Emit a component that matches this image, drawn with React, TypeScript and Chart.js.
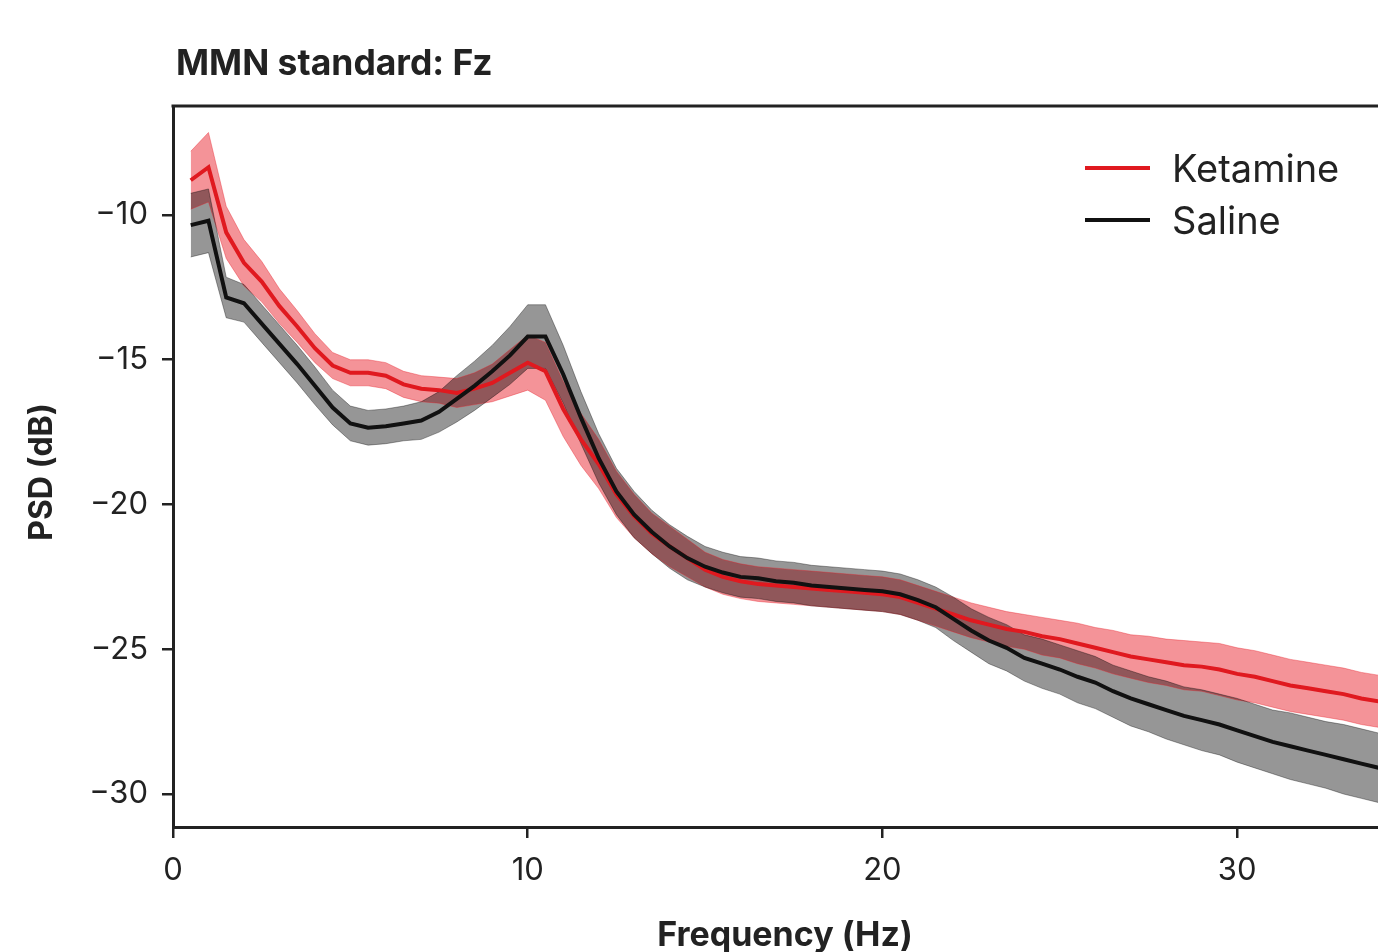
import React, { useEffect, useRef } from "react";
import { Chart, registerables } from "chart.js";

Chart.register(...registerables);

const TITLE = "MMN standard: Fz";
const X_LABEL = "Frequency (Hz)";
const Y_LABEL = "PSD (dB)";
const SERIES_NAMES = ["Ketamine", "Saline"];
const X_TICKS = [0, 10, 20, 30];
const Y_TICKS = [-30, -25, -20, -15, -10];

const FREQS = [
  0.5, 1.0, 1.5, 2.0, 2.5, 3.0, 3.5, 4.0, 4.5, 5.0,
  5.5, 6.0, 6.5, 7.0, 7.5, 8.0, 8.5, 9.0, 9.5, 10.0,
  10.5, 11.0, 11.5, 12.0, 12.5, 13.0, 13.5, 14.0, 14.5, 15.0,
  15.5, 16.0, 16.5, 17.0, 17.5, 18.0, 18.5, 19.0, 19.5, 20.0,
  20.5, 21.0, 21.5, 22.0, 22.5, 23.0, 23.5, 24.0, 24.5, 25.0,
  25.5, 26.0, 26.5, 27.0, 27.5, 28.0, 28.5, 29.0, 29.5, 30.0,
  30.5, 31.0, 31.5, 32.0, 32.5, 33.0, 33.5, 34.0,
];

const KETAMINE_MEAN = [
  -8.8, -8.35, -10.6, -11.65, -12.3, -13.15, -13.85, -14.6, -15.2, -15.45,
  -15.45, -15.55, -15.85, -16.0, -16.05, -16.15, -16.0, -15.8, -15.45, -15.1,
  -15.4, -16.7, -17.75, -18.6, -19.65, -20.4, -21.0, -21.45, -21.85, -22.25,
  -22.5, -22.65, -22.75, -22.8, -22.85, -22.9, -22.95, -23.0, -23.05, -23.1,
  -23.2, -23.4, -23.6, -23.8, -24.0, -24.15, -24.3, -24.4, -24.55, -24.65,
  -24.8, -24.95, -25.1, -25.25, -25.35, -25.45, -25.55, -25.6, -25.7, -25.85,
  -25.95, -26.1, -26.25, -26.35, -26.45, -26.55, -26.7, -26.8,
];

const KETAMINE_ERR = [
  1.0, 1.2, 0.9, 0.8, 0.7, 0.6, 0.55, 0.5, 0.45, 0.45,
  0.45, 0.45, 0.45, 0.45, 0.45, 0.5, 0.55, 0.65, 0.8, 0.95,
  1.0, 0.95, 0.9, 0.85, 0.8, 0.75, 0.7, 0.7, 0.65, 0.6,
  0.6, 0.6, 0.6, 0.6, 0.6, 0.6, 0.6, 0.6, 0.6, 0.6,
  0.6, 0.6, 0.6, 0.6, 0.6, 0.6, 0.6, 0.6, 0.65, 0.65,
  0.7, 0.7, 0.75, 0.75, 0.8, 0.8, 0.85, 0.85, 0.9, 0.9,
  0.9, 0.9, 0.9, 0.9, 0.9, 0.9, 0.9, 0.9,
];

const SALINE_MEAN = [
  -10.35, -10.2, -12.85, -13.05, -13.75, -14.45, -15.15, -15.9, -16.65, -17.2,
  -17.35, -17.3, -17.2, -17.1, -16.8, -16.35, -15.9, -15.4, -14.85, -14.2,
  -14.2, -15.5, -17.0, -18.4, -19.55, -20.35, -20.95, -21.45, -21.85, -22.15,
  -22.35, -22.5, -22.55, -22.65, -22.7, -22.8, -22.85, -22.9, -22.95, -23.0,
  -23.1, -23.3, -23.55, -23.95, -24.35, -24.7, -24.95, -25.3, -25.5, -25.7,
  -25.95, -26.15, -26.45, -26.7, -26.9, -27.1, -27.3, -27.45, -27.6, -27.8,
  -28.0, -28.2, -28.35, -28.5, -28.65, -28.8, -28.95, -29.1,
];

const SALINE_ERR = [
  1.1, 1.1, 0.7, 0.65, 0.65, 0.65, 0.65, 0.65, 0.6, 0.6,
  0.6, 0.6, 0.6, 0.65, 0.7, 0.8, 0.85, 0.9, 1.0, 1.1,
  1.1, 1.0, 0.9, 0.85, 0.8, 0.8, 0.75, 0.75, 0.75, 0.7,
  0.7, 0.7, 0.7, 0.7, 0.7, 0.7, 0.7, 0.7, 0.7, 0.7,
  0.7, 0.7, 0.7, 0.75, 0.75, 0.8, 0.8, 0.8, 0.85, 0.85,
  0.9, 0.9, 0.9, 0.95, 0.95, 1.0, 1.0, 1.05, 1.05, 1.1,
  1.1, 1.1, 1.15, 1.15, 1.15, 1.2, 1.2, 1.2,
];

const FONT = "Inter, 'Open Sans', 'DejaVu Sans', sans-serif";
const TEXT = "#222222";
const RED_LINE = "#e0191f";
const RED_BAND = "rgba(232, 30, 40, 0.48)";
const BLACK_LINE = "#111111";
const GRAY_BAND = "rgba(0, 0, 0, 0.41)";

const overlayPlugin = {
  id: "overlay",
  afterDraw(chart: any) {
    const { ctx, chartArea } = chart;
    ctx.save();
    // top spine
    ctx.strokeStyle = TEXT;
    ctx.lineWidth = 3;
    ctx.beginPath();
    ctx.moveTo(chartArea.left - 1.5, chartArea.top);
    ctx.lineTo(chartArea.right, chartArea.top);
    ctx.stroke();

    // title
    ctx.fillStyle = TEXT;
    ctx.textAlign = "left";
    ctx.textBaseline = "alphabetic";
    ctx.font = `bold 35.5px ${FONT}`;
    ctx.fillText(TITLE, 176, 75);

    // legend
    const legendColors = [RED_LINE, BLACK_LINE];
    const legendY = [168, 220];
    ctx.font = `38px ${FONT}`;
    SERIES_NAMES.forEach((name, i) => {
      ctx.strokeStyle = legendColors[i];
      ctx.lineWidth = 4;
      ctx.beginPath();
      ctx.moveTo(1085, legendY[i]);
      ctx.lineTo(1150, legendY[i]);
      ctx.stroke();
      ctx.fillStyle = TEXT;
      ctx.fillText(name, 1172, legendY[i] + 14);
    });

    // x axis title
    ctx.font = `bold 34px ${FONT}`;
    ctx.textAlign = "center";
    ctx.fillText(X_LABEL, 785, 946);

    // y axis title
    ctx.translate(52, 472);
    ctx.rotate(-Math.PI / 2);
    ctx.font = `bold 32px ${FONT}`;
    ctx.textAlign = "center";
    ctx.fillText(Y_LABEL, 0, 0);
    ctx.restore();
  },
};

export default function App() {
  const canvasRef = useRef<HTMLCanvasElement | null>(null);

  useEffect(() => {
    document.body.style.margin = "0";
    document.body.style.overflow = "hidden";
    const canvas = canvasRef.current;
    if (!canvas) return;

    const pts = (mean: number[], err: number[], sign: number) =>
      FREQS.map((f, i) => ({ x: f, y: mean[i] + sign * err[i] }));
    const meanPts = (mean: number[]) => FREQS.map((f, i) => ({ x: f, y: mean[i] }));

    const bandBase = { pointRadius: 0, tension: 0, borderWidth: 0.8 };

    const chart = new Chart(canvas, {
      type: "line",
      data: {
        datasets: [
          {
            ...bandBase,
            label: "Ketamine upper",
            data: pts(KETAMINE_MEAN, KETAMINE_ERR, 1),
            borderColor: RED_BAND,
            backgroundColor: RED_BAND,
            fill: false,
            order: 5,
          },
          {
            ...bandBase,
            label: "Ketamine lower",
            data: pts(KETAMINE_MEAN, KETAMINE_ERR, -1),
            borderColor: RED_BAND,
            backgroundColor: RED_BAND,
            fill: "-1",
            order: 4,
          },
          {
            ...bandBase,
            label: "Saline upper",
            data: pts(SALINE_MEAN, SALINE_ERR, 1),
            borderColor: "rgba(0,0,0,0.45)",
            backgroundColor: GRAY_BAND,
            fill: false,
            order: 3,
          },
          {
            ...bandBase,
            label: "Saline lower",
            data: pts(SALINE_MEAN, SALINE_ERR, -1),
            borderColor: "rgba(0,0,0,0.45)",
            backgroundColor: GRAY_BAND,
            fill: "-1",
            order: 2,
          },
          {
            label: SERIES_NAMES[0],
            data: meanPts(KETAMINE_MEAN),
            borderColor: RED_LINE,
            backgroundColor: RED_LINE,
            borderWidth: 4,
            pointRadius: 0,
            tension: 0,
            fill: false,
            order: 1,
          },
          {
            label: SERIES_NAMES[1],
            data: meanPts(SALINE_MEAN),
            borderColor: BLACK_LINE,
            backgroundColor: BLACK_LINE,
            borderWidth: 4,
            pointRadius: 0,
            tension: 0,
            fill: false,
            order: 0,
          },
        ],
      },
      options: {
        animation: false,
        responsive: false,
        maintainAspectRatio: false,
        layout: { padding: { top: 106, left: 0, right: 0, bottom: 0 } },
        plugins: {
          legend: { display: false },
          tooltip: { enabled: false },
          title: { display: false },
          filler: { propagate: false, drawTime: "beforeDatasetsDraw" },
        } as any,
        scales: {
          x: {
            type: "linear",
            min: 0,
            max: 33.97,
            afterBuildTicks: (s: any) => {
              s.ticks = X_TICKS.map((v) => ({ value: v }));
            },
            afterFit: (s: any) => {
              s.height = 125;
            },
            ticks: {
              color: TEXT,
              font: { family: FONT, size: 31 },
              padding: 14,
              maxRotation: 0,
              autoSkip: false,
              callback: (v: any) => String(v),
            },
            grid: {
              display: true,
              drawOnChartArea: false,
              drawTicks: true,
              tickLength: 11,
              color: TEXT,
              lineWidth: 2.5,
            },
            border: { display: true, color: TEXT, width: 3 },
          },
          y: {
            type: "linear",
            min: -31.14,
            max: -6.235,
            afterBuildTicks: (s: any) => {
              s.ticks = Y_TICKS.map((v) => ({ value: v }));
            },
            afterFit: (s: any) => {
              s.width = 173;
            },
            ticks: {
              color: TEXT,
              font: { family: FONT, size: 31 },
              padding: 14,
              autoSkip: false,
              callback: (v: any) => String(v).replace("-", "\u2212"),
            },
            grid: {
              display: true,
              drawOnChartArea: false,
              drawTicks: true,
              tickLength: 11,
              color: TEXT,
              lineWidth: 2.5,
            },
            border: { display: true, color: TEXT, width: 3 },
          },
        },
      },
      plugins: [overlayPlugin],
    });

    return () => chart.destroy();
  }, []);

  return (
    <div style={{ width: 1378, height: 952, background: "#ffffff", overflow: "hidden" }}>
      <canvas ref={canvasRef} width={1378} height={952} style={{ display: "block" }} />
    </div>
  );
}
